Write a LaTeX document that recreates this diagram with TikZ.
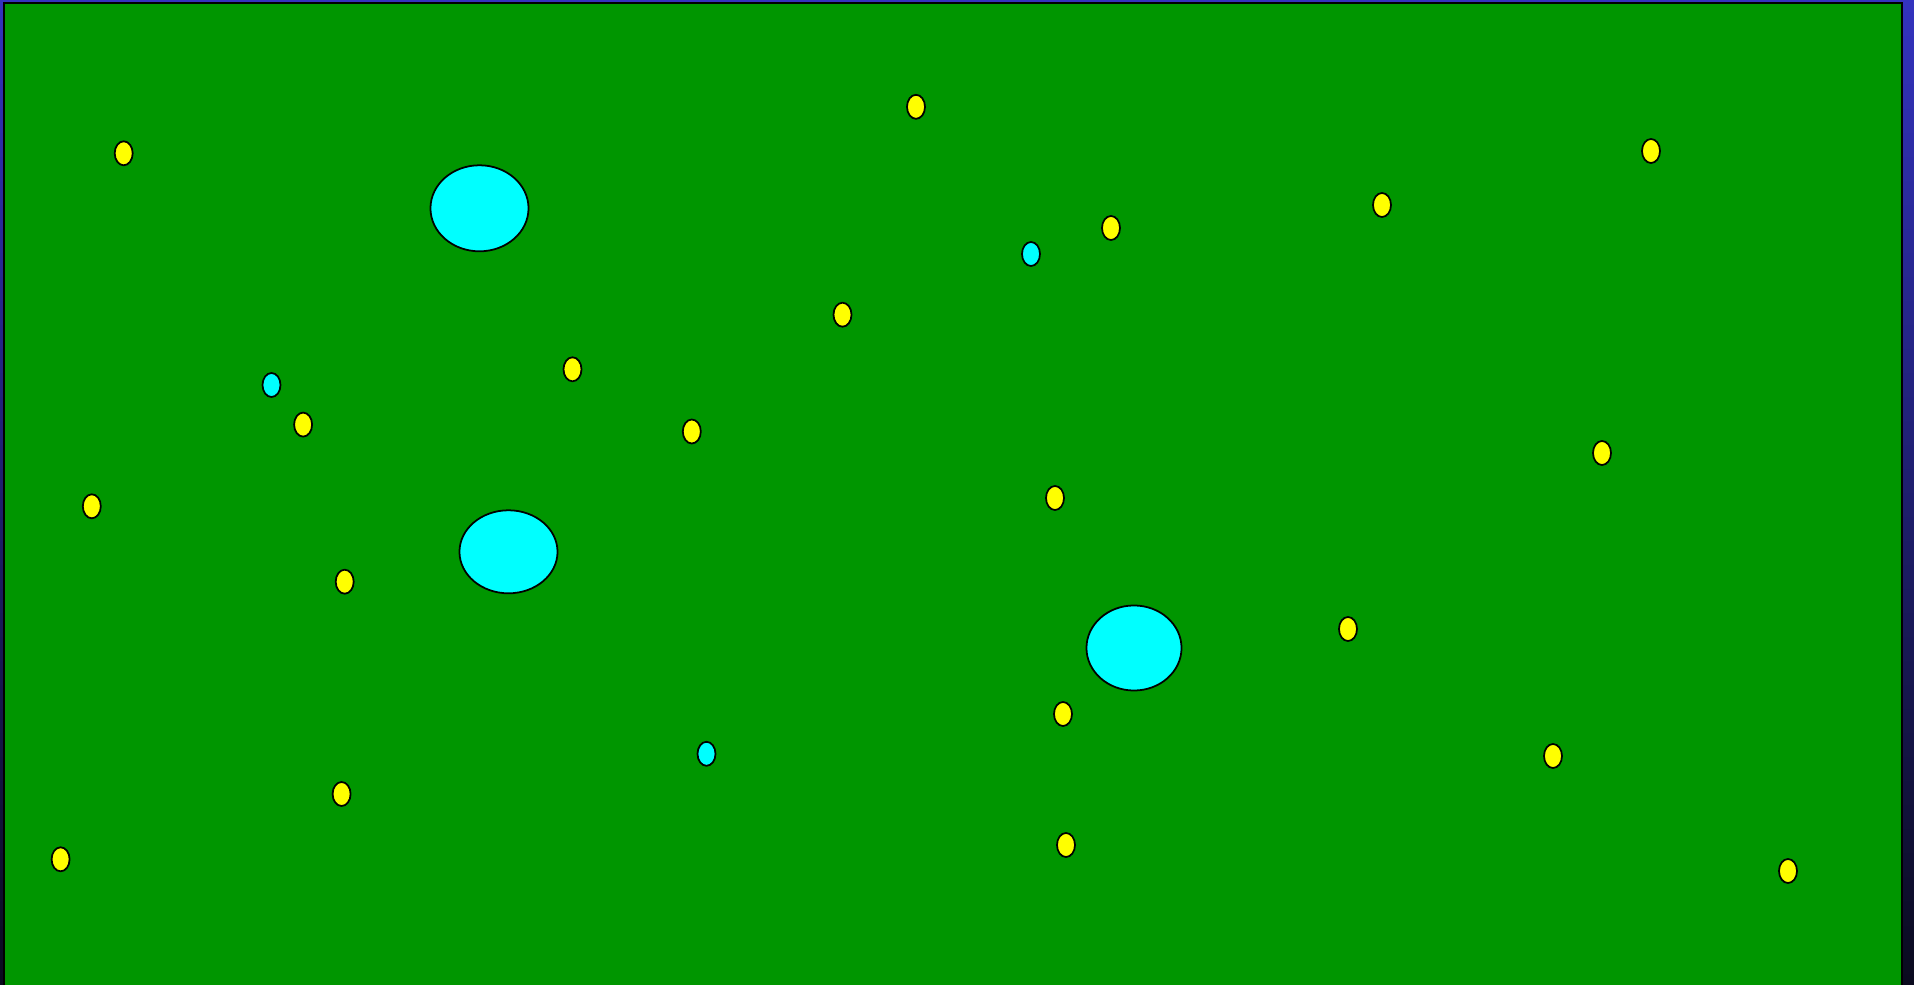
\documentclass[tikz,border=0pt]{standalone}
\usepackage{tikz}
\usetikzlibrary{shapes.geometric}

\definecolor{fieldgreen}{RGB}{0,150,0}
\definecolor{pondaqua}{RGB}{0,255,255}
\definecolor{coinyellow}{RGB}{255,255,0}
\definecolor{skytop}{RGB}{51,51,190}
\definecolor{skybottom}{RGB}{10,10,30}

\begin{document}
\begin{tikzpicture}[
  x=0.01cm, y=-0.01cm,
  field/.style={draw=black, line width=0.6pt, fill=fieldgreen},
  pond/.style={ellipse, draw=black, line width=0.5pt, fill=pondaqua, inner sep=0pt},
  pool/.style={ellipse, draw=black, line width=0.5pt, fill=pondaqua, inner sep=0pt, minimum width=0.18cm, minimum height=0.24cm},
  coin/.style={ellipse, draw=black, line width=0.5pt, fill=coinyellow, inner sep=0pt, minimum width=0.18cm, minimum height=0.24cm}
]
  \useasboundingbox (0,0) rectangle (1914,985);
  \clip (0,0) rectangle (1914,985);
  \shade[top color=skytop, bottom color=skybottom] (0,0) rectangle (1914,985);
  \draw[field] (4,3) rectangle (1902,995);

  % large ponds
  \node[pond, minimum width=0.98cm, minimum height=0.86cm] (pondA) at (479.5,208.3) {};
  \node[pond, minimum width=0.98cm, minimum height=0.83cm] (pondB) at (508.5,551.8) {};
  \node[pond, minimum width=0.95cm, minimum height=0.85cm] (pondC) at (1134,648) {};

  % small pools
  \node[pool] (poolA) at (271.5,385) {};
  \node[pool] (poolB) at (706.5,753.8) {};
  \node[pool] (poolC) at (1031,254) {};

  % coins
  \node[coin] (coinA) at (123.7,153.3) {};
  \node[coin] (coinB) at (916,106.8) {};
  \node[coin] (coinC) at (842.5,314.7) {};
  \node[coin] (coinD) at (572.5,369.3) {};
  \node[coin] (coinE) at (303.1,424.6) {};
  \node[coin] (coinF) at (691.8,431.5) {};
  \node[coin] (coinG) at (91.8,506.3) {};
  \node[coin] (coinH) at (344.7,581.7) {};
  \node[coin] (coinI) at (341.6,794) {};
  \node[coin] (coinJ) at (60.6,859.3) {};
  \node[coin] (coinK) at (1111,228) {};
  \node[coin] (coinL) at (1055,498) {};
  \node[coin] (coinM) at (1348,629) {};
  \node[coin] (coinN) at (1063,714) {};
  \node[coin] (coinO) at (1066,845) {};
  \node[coin] (coinP) at (1382,205) {};
  \node[coin] (coinQ) at (1651,151) {};
  \node[coin] (coinR) at (1602,453) {};
  \node[coin] (coinS) at (1553,756) {};
  \node[coin] (coinT) at (1788,871) {};
\end{tikzpicture}
\end{document}
